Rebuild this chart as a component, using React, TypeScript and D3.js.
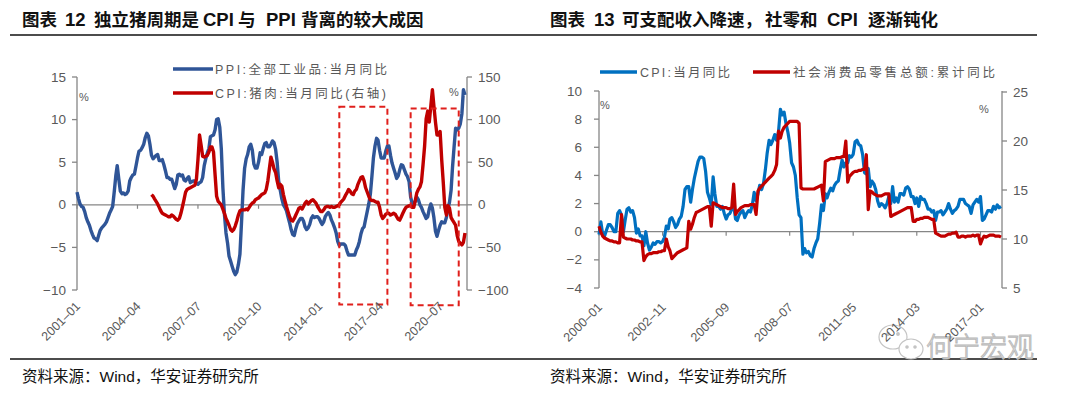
import React from 'react';
import * as d3 from 'd3';

// ---- chart 12: PPI vs pork CPI (monthly, %) ----
const ppiStart = '2001-01';
const ppiValues = [
  1.5, 0.7, 0.1, -0.2, -0.3, -0.8, -1.5, -2.0, -2.4, -3.0, -3.5, -3.9,
  -4.0, -4.2, -3.6, -3.0, -2.7, -2.5, -2.3, -2.0, -1.5, -1.0, -0.6, -0.2,
  1.5, 3.4, 4.6, 3.0, 1.6, 1.3, 1.4, 1.2, 1.3, 1.6, 2.8, 3.2,
  3.5, 3.6, 4.5, 5.5, 6.3, 6.4, 6.7, 7.1, 7.9, 8.4, 8.1, 7.1,
  5.8, 5.4, 5.6, 5.8, 5.9, 5.2, 5.2, 5.3, 4.7, 4.0, 3.2, 3.2,
  3.0, 3.0, 2.5, 1.9, 2.4, 3.5, 3.6, 3.4, 3.5, 2.9, 2.8, 3.1,
  3.3, 2.6, 2.7, 2.8, 2.8, 2.5, 2.4, 2.6, 2.7, 3.2, 4.6, 5.4,
  6.1, 6.6, 8.0, 8.1, 8.2, 8.8, 10.0, 10.1, 9.1, 6.6, 2.0, -1.1,
  -3.3, -4.5, -6.0, -6.6, -7.2, -7.8, -8.2, -7.9, -7.0, -5.8, -2.1, 1.7,
  4.3, 5.4, 5.9, 6.8, 7.1, 6.4, 4.8, 4.3, 4.3, 5.0, 6.1, 5.9,
  6.6, 7.2, 7.3, 6.8, 6.8, 7.1, 7.5, 7.3, 6.5, 5.0, 2.7, 1.7,
  0.7, 0.0, -0.3, -0.7, -1.4, -2.1, -2.9, -3.5, -3.6, -2.8, -2.2, -1.9,
  -1.6, -1.6, -1.9, -2.6, -2.9, -2.7, -2.3, -1.6, -1.3, -1.5, -1.4, -1.4,
  -1.6, -2.0, -2.3, -2.0, -1.4, -1.1, -0.9, -1.2, -1.8, -2.2, -2.7, -3.3,
  -4.3, -4.8, -4.6, -4.6, -4.6, -4.8, -5.4, -5.9, -5.9, -5.9, -5.9, -5.9,
  -5.3, -4.9, -4.3, -3.4, -2.8, -2.6, -1.7, -0.8, 0.1, 1.2, 3.3, 5.5,
  6.9, 7.8, 7.6, 6.4, 5.5, 5.5, 5.5, 6.3, 6.9, 6.9, 5.8, 4.9,
  4.3, 3.7, 3.1, 3.4, 4.1, 4.7, 4.6, 4.1, 3.6, 3.3, 2.7, 0.9,
  0.1, 0.1, 0.4, 0.9, 0.6, 0.0, -0.3, -0.8, -1.2, -1.6, -1.4, -0.5,
  0.1, -0.4, -1.5, -3.1, -3.7, -3.0, -2.4, -2.0, -2.1, -2.1, -1.5, -0.4,
  0.3, 1.7, 4.4, 6.8, 9.0, 8.8, 9.0, 9.5, 10.7, 13.5, 12.9,
];
const porkStart = '2005-01';
const porkValues = [
  12, 10, 7, 4, 1, -3, -7, -10, -11, -12, -13, -14,
  -14, -12, -13, -15, -17, -18, -16, -10, -2, 6, 15, 18,
  19, 20, 21, 22, 23, 30, 53, 82, 70, 57, 56, 57,
  58, 62, 68, 68, 62, 35, 10, 4, 2, 0, -5, -10,
  -16, -20, -24, -29, -31, -29, -25, -19, -12, -7, -6, -6,
  -6, -5, -6, -3, 0, 2, 3, 6, 7, 8, 10, 12,
  13, 14, 18, 28, 42, 56, 50, 42, 38, 28, 20, 24,
  22, 12, 5, -2, -8, -14, -18, -19, -16, -12, -8, -4,
  -3, -5, -2, 2, 4, 1, 3, 5, 6, 4, 2, -2,
  -5, -8, -8, -6, -3, -2, -2, -3, -2, -3, -3, -2,
  -1, 0, 3, 5, 7, 11, 14, 18, 16, 13, 12, 16,
  18, 24, 28, 32, 33, 28, 20, 15, 10, 6, 5, 5,
  4, 3, 3, -3, -12, -16, -14, -11, -10, -10, -12, -11,
  -10, -11, -14, -17, -18, -14, -10, -6, -3, -2, -1, -1,
  -3, -3, 5, 14, 18, 21, 27, 47, 69, 101, 110, 97,
  116, 135, 116, 97, 82, 82, 86, 53, 26, -3, -12, -1,
  -4, -15, -18, -21, -24, -36, -43, -45, -47, -44, -33,
];
const leftXTicks = ['2001-01', '2004-04', '2007-07', '2010-10', '2014-01', '2017-04', '2020-07'];
const leftYTicks = [-10, -5, 0, 5, 10, 15];
const leftY2Ticks = [-100, -50, 0, 50, 100, 150];
// dashed highlight boxes (dates, right-axis values)
const boxStarts = ['2015-02', '2018-12'];
const boxEnds = ['2017-09', '2021-07'];
const boxTops = [115, 113];
const boxBottoms = [-117, -118];

// ---- chart 13: CPI vs retail sales (monthly, %) ----
const cpiStart = '2000-01';
const cpiValues = [
  -0.2, 0.7, -0.2, -0.3, 0.1, 0.5, 0.5, 0.3, 0.0, 0.0, 1.3, 1.5,
  1.2, 0.0, 0.8, 1.6, 1.7, 1.4, 1.5, 1.0, -0.1, 0.2, -0.3, -0.3,
  -1.0, 0.0, -0.8, -1.3, -1.1, -0.8, -0.9, -0.7, -0.7, -0.8, -0.7, -0.4,
  0.4, 0.2, 0.9, 1.0, 0.7, 0.3, 0.5, 0.9, 1.1, 1.8, 3.0, 3.2,
  3.2, 2.1, 3.0, 3.8, 4.4, 5.0, 5.3, 5.3, 5.2, 4.3, 2.8, 2.4,
  1.9, 3.9, 2.7, 1.8, 1.8, 1.6, 1.8, 1.3, 0.9, 1.2, 1.3, 1.6,
  1.9, 0.9, 0.8, 1.2, 1.4, 1.5, 1.0, 1.3, 1.5, 1.4, 1.9, 2.8,
  2.2, 2.7, 3.3, 3.0, 3.4, 4.4, 5.6, 6.5, 6.2, 6.5, 6.9, 6.5,
  7.1, 8.7, 8.3, 8.5, 7.7, 7.1, 6.3, 4.9, 4.6, 4.0, 2.4, 1.2,
  1.0, -1.6, -1.2, -1.5, -1.4, -1.7, -1.8, -1.2, -0.8, -0.5, 0.6, 1.9,
  1.5, 2.7, 2.4, 2.8, 3.1, 2.9, 3.3, 3.5, 3.6, 4.4, 5.1, 4.6,
  4.9, 4.9, 5.4, 5.3, 5.5, 6.4, 6.5, 6.2, 6.1, 5.5, 4.2, 4.1,
  4.5, 3.2, 3.6, 3.4, 3.0, 2.2, 1.8, 2.0, 1.9, 1.7, 2.0, 2.5,
  2.0, 3.2, 2.1, 2.4, 2.1, 2.7, 2.7, 2.6, 3.1, 3.2, 3.0, 2.5,
  2.5, 2.0, 2.4, 1.8, 2.5, 2.3, 2.3, 2.0, 1.6, 1.6, 1.4, 1.5,
  0.8, 1.4, 1.4, 1.5, 1.2, 1.4, 1.6, 2.0, 1.6, 1.3, 1.5, 1.6,
  1.8, 2.3, 2.3, 2.3, 2.0, 1.9, 1.8, 1.3, 1.9, 2.1, 2.3, 2.1,
  2.5, 0.8, 0.9, 1.2, 1.5, 1.5, 1.4, 1.8, 1.6, 1.9, 1.7, 1.8,
];
const retailValues = [
  11.3, 10.7, 10.3, 10.1, 10.0, 9.9, 9.8, 9.8, 9.7, 9.7, 9.6, 9.6,
  12.5, 10.2, 10.1, 10.0, 10.0, 10.0, 9.9, 9.9, 9.8, 9.8, 9.7, 9.7,
  7.8, 8.2, 8.4, 8.5, 8.5, 8.6, 8.6, 8.6, 8.7, 8.7, 8.8, 8.8,
  10.0, 9.2, 8.8, 8.0, 8.2, 8.4, 8.6, 8.7, 8.8, 8.9, 9.0, 9.1,
  11.8, 11.0, 11.5, 12.2, 12.7, 12.8, 12.9, 13.0, 13.1, 13.2, 13.3, 13.3,
  11.3, 13.7, 13.6, 13.5, 13.4, 13.3, 13.2, 13.2, 13.2, 13.1, 13.1, 13.2,
  15.6, 12.5, 12.8, 13.0, 13.2, 13.3, 13.4, 13.4, 13.4, 13.5, 13.5, 13.5,
  12.5, 14.9, 15.2, 15.4, 15.6, 15.8, 16.0, 16.2, 16.4, 16.6, 17.0, 17.6,
  21.0, 20.3, 21.0, 21.4, 21.6, 21.8, 22.0, 22.0, 22.0, 22.0, 22.0, 21.8,
  15.2, 15.1, 15.1, 15.1, 15.1, 15.1, 15.1, 15.1, 15.2, 15.3, 15.4, 15.5,
  13.9, 17.9, 18.0, 18.1, 18.2, 18.2, 18.2, 18.3, 18.3, 18.3, 18.4, 18.4,
  20.0, 15.8, 16.4, 16.6, 16.8, 16.9, 16.9, 17.0, 17.0, 17.1, 17.1, 18.6,
  13.0, 14.9, 14.8, 14.6, 14.5, 14.4, 14.4, 14.4, 14.5, 14.6, 14.6, 14.6,
  12.3, 12.4, 12.5, 12.6, 12.7, 12.8, 12.9, 13.0, 13.1, 13.2, 13.2, 13.2,
  11.8, 11.8, 12.0, 12.0, 12.1, 12.1, 12.2, 12.2, 12.2, 12.1, 12.0, 12.0,
  10.6, 10.5, 10.4, 10.3, 10.3, 10.3, 10.4, 10.5, 10.5, 10.6, 10.6, 10.7,
  10.2, 10.2, 10.3, 10.3, 10.2, 10.3, 10.3, 10.3, 10.4, 10.3, 10.4, 10.4,
  9.5, 10.0, 10.3, 10.2, 10.3, 10.4, 10.4, 10.4, 10.3, 10.3, 10.3, 10.2,
];
const rightXTicks = ['2000-01', '2002-11', '2005-09', '2008-07', '2011-05', '2014-03', '2017-01'];
const rightYTicks = [-4, -2, 0, 2, 4, 6, 8, 10];
const rightY2Ticks = [5, 10, 15, 20, 25];

type Pt = { date: Date; value: number };

const parseMonth = d3.timeParse('%Y-%m');
const toMonth = (s: string) => parseMonth(s) as Date;
const monthSeries = (start: string, values: number[]): Pt[] =>
  values.map((value, i) => ({ date: d3.timeMonth.offset(toMonth(start), i), value }));

const NUM_FONT = '"Liberation Sans", Arial, sans-serif';
const CJK_FONT = '"Liberation Sans", "Noto Sans CJK SC", sans-serif';
const AXIS = '#868686';
const LABEL = '#595959';
const fmt = (v: number) => (v < 0 ? '\u2212' + Math.abs(v) : String(v));

const Axes = ({ x, y, y2, xTicks, yTicks, y2Ticks, leftX, rightX }: any) => {
  const [bottom, top] = y.range();
  const y0 = y(0);
  return (
    <g>
      <line x1={leftX} x2={rightX} y1={y0} y2={y0} stroke={AXIS} strokeWidth={1.3} />
      {xTicks.map((t: string) => (
        <line key={t} x1={x(toMonth(t))} x2={x(toMonth(t))} y1={y0} y2={y0 + 4} stroke={AXIS} strokeWidth={1.2} />
      ))}
      <line x1={leftX} x2={leftX} y1={top} y2={bottom} stroke={AXIS} strokeWidth={1.3} />
      {yTicks.map((v: number) => (
        <line key={v} x1={leftX - 5} x2={leftX} y1={y(v)} y2={y(v)} stroke={AXIS} strokeWidth={1.3} />
      ))}
      <line x1={rightX} x2={rightX} y1={top} y2={bottom} stroke={AXIS} strokeWidth={1.3} />
      {y2Ticks.map((v: number) => (
        <line key={v} x1={rightX} x2={rightX + 5} y1={y2(v)} y2={y2(v)} stroke={AXIS} strokeWidth={1.3} />
      ))}
    </g>
  );
};

const AxisLabels = ({ x, y, y2, xTicks, yTicks, y2Ticks, leftX, rightX, xLabelY }: any) => (
  <g fontFamily={NUM_FONT} fill={LABEL}>
    {yTicks.map((v: number) => (
      <text key={v} x={leftX - 11} y={y(v) + 4.5} fontSize={13.5} textAnchor="end">{fmt(v)}</text>
    ))}
    {y2Ticks.map((v: number) => (
      <text key={v} x={rightX + 11} y={y2(v) + 4.5} fontSize={13.5}>{fmt(v)}</text>
    ))}
    {xTicks.map((t: string) => (
      <text key={t} fontSize={12.5} textAnchor="end"
        transform={`translate(${x(toMonth(t)) + 4},${xLabelY}) rotate(-45)`}>
        {t.replace('-', '\u2013')}
      </text>
    ))}
  </g>
);

const LeftChart = () => {
  const x = d3.scaleTime().domain([toMonth('2001-01'), toMonth('2021-11')]).range([77, 465]);
  const y = d3.scaleLinear().domain([-10, 15]).range([290, 77]);
  const y2 = d3.scaleLinear().domain([-100, 150]).range([290, 77]);
  const ppiPath = d3.line<Pt>().x(d => x(d.date)).y(d => y(d.value))(monthSeries(ppiStart, ppiValues));
  const porkPath = d3.line<Pt>().x(d => x(d.date)).y(d => y2(d.value))(monthSeries(porkStart, porkValues));
  const leftX = 77;
  const rightX = 467;
  return (
    <g>
      <Axes x={x} y={y} y2={y2} xTicks={leftXTicks} yTicks={leftYTicks} y2Ticks={leftY2Ticks} leftX={leftX} rightX={rightX} />
      <path d={ppiPath || ''} fill="none" stroke="#2F5597" strokeWidth={3.4} strokeLinejoin="round" />
      <path d={porkPath || ''} fill="none" stroke="#C00000" strokeWidth={3.4} strokeLinejoin="round" />
      {boxStarts.map((s, i) => (
        <rect key={s} x={x(toMonth(s))} y={y2(boxTops[i])}
          width={x(toMonth(boxEnds[i])) - x(toMonth(s))} height={y2(boxBottoms[i]) - y2(boxTops[i])}
          fill="none" stroke="#E0201C" strokeWidth={2} strokeDasharray="6,4" />
      ))}
      <AxisLabels x={x} y={y} y2={y2} xTicks={leftXTicks} yTicks={leftYTicks} y2Ticks={leftY2Ticks}
        leftX={leftX} rightX={rightX} xLabelY={307} />
      <text x={79} y={101} fontSize={11} fill={LABEL} fontFamily={NUM_FONT}>%</text>
      <text x={449} y={96} fontSize={11} fill={LABEL} fontFamily={NUM_FONT}>%</text>
      {/* legend */}
      <line x1={173} x2={213} y1={69} y2={69} stroke="#2F5597" strokeWidth={3.4} />
      <text x={215} y={73.5} fontSize={12.5} fill={LABEL} fontFamily={CJK_FONT} textLength={172} lengthAdjust="spacing">PPI:全部工业品:当月同比</text>
      <line x1={173} x2={213} y1={93} y2={93} stroke="#C00000" strokeWidth={3.4} />
      <text x={215} y={97.5} fontSize={12.5} fill={LABEL} fontFamily={CJK_FONT} textLength={171} lengthAdjust="spacing">CPI:猪肉:当月同比(右轴)</text>
    </g>
  );
};

const RightChart = () => {
  const x = d3.scaleTime().domain([toMonth('2000-01'), toMonth('2017-12')]).range([599, 1001]);
  const y = d3.scaleLinear().domain([-4, 10]).range([288, 91]);
  const y2 = d3.scaleLinear().domain([5, 25]).range([288, 92]);
  const cpiPath = d3.line<Pt>().x(d => x(d.date)).y(d => y(d.value))(monthSeries(cpiStart, cpiValues));
  const retailPath = d3.line<Pt>().x(d => x(d.date)).y(d => y2(d.value))(monthSeries(cpiStart, retailValues));
  const leftX = 599;
  const rightX = 1002;
  return (
    <g>
      <Axes x={x} y={y} y2={y2} xTicks={rightXTicks} yTicks={rightYTicks} y2Ticks={rightY2Ticks} leftX={leftX} rightX={rightX} />
      <path d={cpiPath || ''} fill="none" stroke="#0070C0" strokeWidth={3.2} strokeLinejoin="round" />
      <path d={retailPath || ''} fill="none" stroke="#C00000" strokeWidth={3.2} strokeLinejoin="round" />
      <AxisLabels x={x} y={y} y2={y2} xTicks={rightXTicks} yTicks={rightYTicks} y2Ticks={rightY2Ticks}
        leftX={leftX - 6} rightX={rightX} xLabelY={308} />
      <text x={600} y={109} fontSize={11} fill={LABEL} fontFamily={NUM_FONT}>%</text>
      <text x={979} y={113} fontSize={11} fill={LABEL} fontFamily={NUM_FONT}>%</text>
      {/* legend */}
      <line x1={600} x2={637} y1={72} y2={72} stroke="#0070C0" strokeWidth={3.4} />
      <text x={640} y={76.5} fontSize={12.5} fill={LABEL} fontFamily={CJK_FONT} textLength={90} lengthAdjust="spacing">CPI:当月同比</text>
      <line x1={753} x2={790} y1={72} y2={72} stroke="#C00000" strokeWidth={3.4} />
      <text x={793} y={76.5} fontSize={12.5} fill={LABEL} fontFamily={CJK_FONT} textLength={202} lengthAdjust="spacing">社会消费品零售总额:累计同比</text>
    </g>
  );
};

const Frame = () => (
  <g fontFamily={CJK_FONT} fill="#111">
    <text y={26} fontSize={17.5} fontWeight="bold">
      <tspan x={22}>图表</tspan><tspan x={65} fontSize={18.5}>12</tspan><tspan x={94}>独立猪周期是</tspan>
      <tspan x={203} fontSize={18.5}>CPI</tspan><tspan x={238}>与</tspan><tspan x={266} fontSize={18.5}>PPI</tspan>
      <tspan x={301}>背离的较大成因</tspan>
    </text>
    <text y={26} fontSize={17.5} fontWeight="bold">
      <tspan x={550}>图表</tspan><tspan x={594} fontSize={18.5}>13</tspan><tspan x={622}>可支配收入降速，</tspan>
      <tspan x={765}>社零和</tspan><tspan x={827} fontSize={18.5}>CPI</tspan><tspan x={868}>逐渐钝化</tspan>
    </text>
    <line x1={10} x2={1037} y1={35} y2={35} stroke="#111" strokeWidth={1.6} />
    <line x1={10} x2={1037} y1={359} y2={359} stroke="#111" strokeWidth={1.6} />
    <text x={22} y={382} fontSize={15.5}>资料来源：Wind，华安证券研究所</text>
    <text x={550} y={382} fontSize={15.5}>资料来源：Wind，华安证券研究所</text>
    {/* watermark */}
    <g stroke="#c4c4c4" strokeWidth={1.2} fill="#fff">
      <ellipse cx={893} cy={337} rx={14} ry={12} />
      <ellipse cx={911} cy={349} rx={12} ry={10} />
      <circle cx={888} cy={334} r={1.3} fill="#c4c4c4" />
      <circle cx={898} cy={334} r={1.3} fill="#c4c4c4" />
      <circle cx={907} cy={347} r={1.2} fill="#c4c4c4" />
      <circle cx={915} cy={347} r={1.2} fill="#c4c4c4" />
    </g>
    <text x={926} y={357} fontSize={27} fill="#fff" stroke="#b8b8b8" strokeWidth={1}
      fontFamily='"Noto Sans CJK SC", sans-serif' fontWeight={300}>何宁宏观</text>
  </g>
);

export default function App() {
  return (
    <div style={{ position: 'absolute', left: 0, top: 0 }}>
      <svg width={1080} height={394} style={{ display: 'block', background: '#fff' }}>
        <Frame />
        <LeftChart />
        <RightChart />
      </svg>
    </div>
  );
}
